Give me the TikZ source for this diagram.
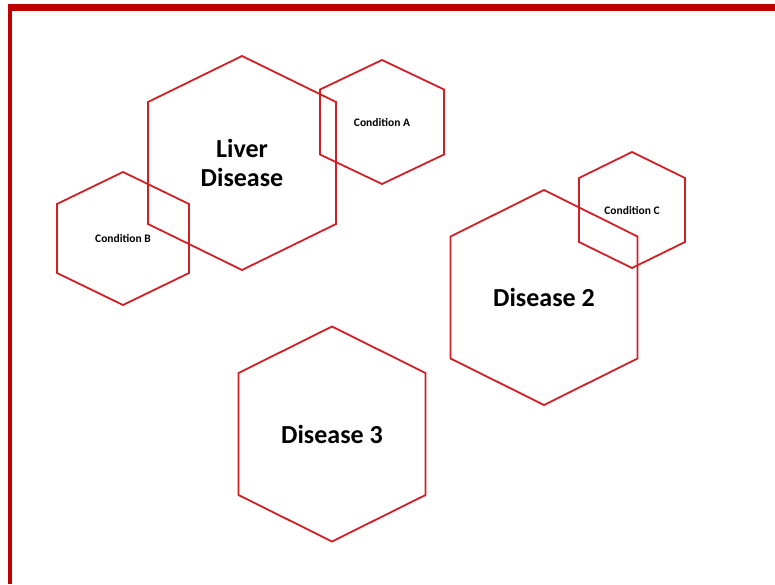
\documentclass[tikz,border=0pt]{standalone}
\usepackage{fontspec}
\setmainfont{Carlito}
\usetikzlibrary{calc}

\definecolor{framered}{RGB}{192,0,0}
\definecolor{hexred}{RGB}{208,32,38}

% hexagon round a named node: half width, half height, height of the side corners
\newcommand{\hexaround}[4]{%
  \draw[hexline] ($(#1)+(0,-#3)$) -- ($(#1)+(#2,-#4)$) -- ($(#1)+(#2,#4)$)
    -- ($(#1)+(0,#3)$) -- ($(#1)+(-#2,#4)$) -- ($(#1)+(-#2,-#4)$) -- cycle;}

\begin{document}
\begin{tikzpicture}[
        x=1pt, y=-1pt,
        hexline/.style={draw=hexred, line width=1.8pt, line join=miter},
        bigtag/.style={inner sep=0pt, align=center, font=\fontsize{26}{29.5}\selectfont\bfseries},
        smalltag/.style={inner sep=0pt, font=\fontsize{11.5}{13}\selectfont\bfseries}
      ]
      \useasboundingbox (0,0) rectangle (775,584);
      % frame on top and left
      \fill[framered] (8,3.5) rectangle (775,11);
      \fill[framered] (8,3.5) rectangle (11.5,584);

      \node[bigtag] (liver) at (242,163) {Liver\\Disease};
      \node[bigtag] (dis2) at (544,297.5) {Disease 2};
      \node[bigtag] (dis3) at (332,434) {Disease 3};
      \node[smalltag] (condA) at (382,122) {Condition A};
      \node[smalltag] (condB) at (123,238.5) {Condition B};
      \node[smalltag] (condC) at (632,210) {Condition C};

      \hexaround{liver}{94}{107}{61}
      \hexaround{dis2}{93.5}{107.5}{61}
      \hexaround{dis3}{93.5}{107.5}{61}
      \hexaround{condA}{62}{62}{32.5}
      \hexaround{condB}{66}{66.5}{34.5}
      \hexaround{condC}{53}{58}{32}
\end{tikzpicture}
\end{document}
